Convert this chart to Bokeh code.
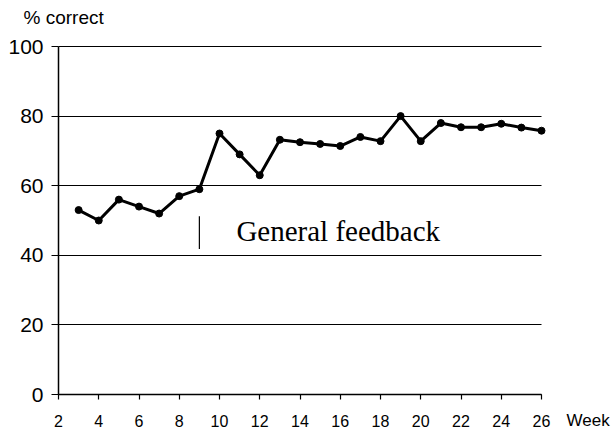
from bokeh.plotting import figure
from bokeh.models import Range1d, Label, FixedTicker
from bokeh.embed import file_html
from bokeh.resources import INLINE

weeks = [3, 4, 5, 6, 7, 8, 9, 10, 11, 12, 13, 14, 15, 16, 17, 18, 19, 20, 21, 22, 23, 24, 25, 26]
pct_correct = [53, 50, 56, 54, 52, 57, 59, 75, 69, 63, 73.2, 72.5, 72, 71.4, 74, 72.8, 80, 72.8, 78, 76.8, 76.8, 77.8, 76.7, 75.8]
x_ticks = [2, 4, 6, 8, 10, 12, 14, 16, 18, 20, 22, 24, 26]
y_ticks = [0, 20, 40, 60, 80, 100]
feedback_week = 9
feedback_marker = [41.8, 51.2]
feedback_text = "General feedback"

# layout: canvas pixels where the axes' ends fall
W, H = 615, 433
px_x0, px_x1 = 58, 541      # week 2 .. week 26
px_y0, px_y1 = 394, 46      # 0 % .. 100 %
xs = (x_ticks[-1] - x_ticks[0]) / (px_x1 - px_x0)
ys = (y_ticks[-1] - y_ticks[0]) / (px_y0 - px_y1)
x_range = Range1d(x_ticks[0] - px_x0 * xs, x_ticks[-1] + (W - px_x1) * xs)
y_range = Range1d(y_ticks[0] - (H - px_y0) * ys, y_ticks[-1] + px_y1 * ys)

p = figure(width=W, height=H, x_range=x_range, y_range=y_range,
           output_backend="svg", toolbar_location=None,
           min_border_left=0, min_border_right=0, min_border_top=0, min_border_bottom=0)
p.outline_line_color = None
p.background_fill_color = "white"
p.border_fill_color = "white"
p.xgrid.visible = False
p.ygrid.grid_line_color = "black"
p.ygrid.grid_line_width = 1
p.ygrid.ticker = FixedTicker(ticks=y_ticks)
p.ygrid.cross_bounds = (x_ticks[0], x_ticks[-1])

p.yaxis.ticker = FixedTicker(ticks=y_ticks)
p.xaxis.ticker = FixedTicker(ticks=x_ticks)
p.xaxis.fixed_location = y_ticks[0]
p.yaxis.fixed_location = x_ticks[0]
p.xaxis.bounds = (x_ticks[0], x_ticks[-1])
p.yaxis.bounds = (y_ticks[0], y_ticks[-1])
for ax in (p.xaxis, p.yaxis):
    ax.axis_line_color = "black"
    ax.axis_line_width = 1.5
    ax.major_tick_line_color = "black"
    ax.major_tick_line_width = 1.2
    ax.minor_tick_line_color = None
    ax.major_tick_in = 0
    ax.major_label_text_color = "black"
    ax.major_label_text_font = "Liberation Sans"
p.yaxis.major_tick_out = 7
p.yaxis.major_label_standoff = 8
p.yaxis.major_label_text_font_size = "21px"
p.xaxis.major_tick_out = 5
p.xaxis.major_label_standoff = 15
p.xaxis.major_label_text_font_size = "16px"

p.line(weeks, pct_correct, line_width=3, line_color="black")
p.scatter(weeks, pct_correct, size=7, fill_color="black", line_color="black")

p.segment(x0=[feedback_week], y0=[feedback_marker[0]], x1=[feedback_week], y1=[feedback_marker[1]],
          line_color="black", line_width=1.2)
p.add_layout(Label(x=feedback_week, y=feedback_marker[0], x_offset=37, y_offset=18,
                   text=feedback_text, text_font="Liberation Serif", text_font_size="29px",
                   text_color="black", text_baseline="alphabetic"))

p.add_layout(Label(x=x_ticks[0], y=y_ticks[-1], x_offset=-35, y_offset=29, text="% correct",
                   text_font="Liberation Sans", text_font_size="19px",
                   text_color="black", text_baseline="alphabetic"))
p.add_layout(Label(x=x_ticks[-1], y=y_ticks[0], x_offset=25, y_offset=-26, text="Week",
                   text_font="Liberation Sans", text_font_size="17px",
                   text_color="black", text_baseline="alphabetic"))

open("out.html", "w").write(file_html(p, INLINE))
